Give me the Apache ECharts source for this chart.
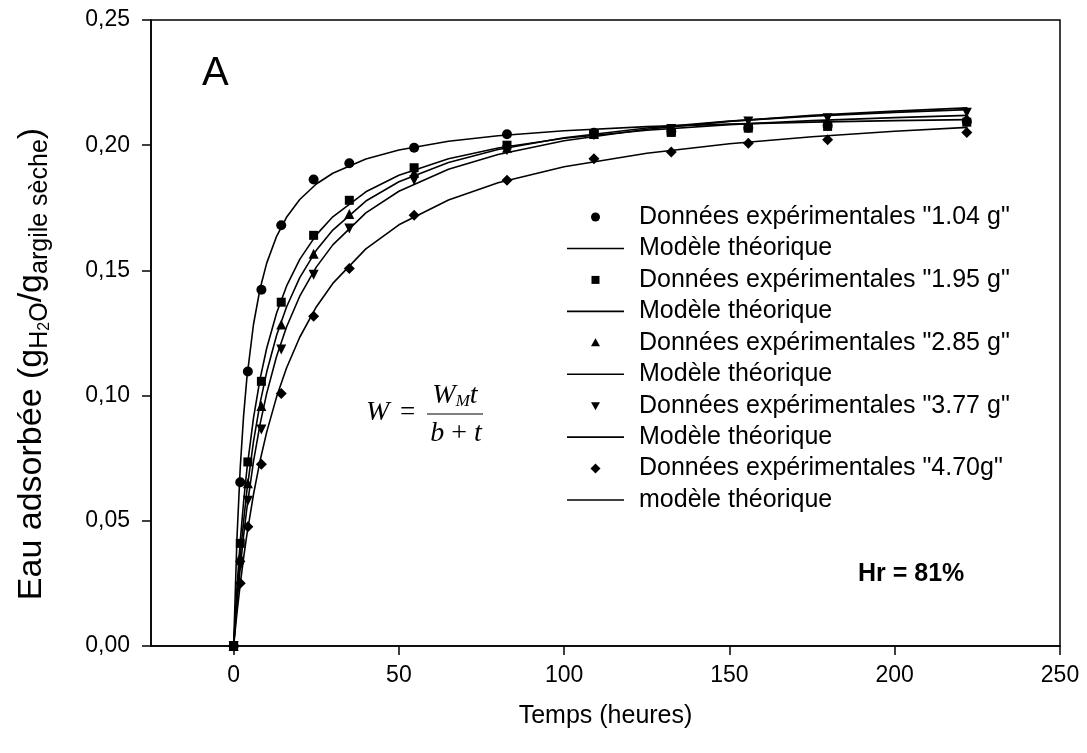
<!DOCTYPE html>
<html><head><meta charset="utf-8">
<script src="https://cdn.jsdelivr.net/npm/echarts@6/dist/echarts.min.js"></script>
<style>html,body{margin:0;padding:0;background:#fff}#c{width:1087px;height:753px}</style>
</head><body><div id="c"></div>
<script>
// ---- data ----
const times = [0, 2, 4.3, 8.4, 14.4, 24.2, 35, 54.6, 82.7, 109, 132.4, 155.7, 179.7, 221.8];
const data104 = [0, 0.0654, 0.1096, 0.1423, 0.168, 0.1863, 0.1928, 0.199, 0.2044, 0.205, 0.2055, 0.207, 0.208, 0.2095];
const data195 = [0, 0.041, 0.0735, 0.1057, 0.1373, 0.164, 0.178, 0.191, 0.200, 0.2045, 0.2051, 0.2068, 0.2075, 0.2092];
const data285 = [0, 0.0355, 0.065, 0.0958, 0.1284, 0.1566, 0.1725, 0.189, 0.199, 0.2045, 0.206, 0.208, 0.209, 0.211];
const data377 = [0, 0.032, 0.058, 0.0865, 0.1184, 0.1483, 0.1667, 0.186, 0.198, 0.204, 0.2065, 0.2095, 0.2108, 0.213];
const data470 = [0, 0.0251, 0.0476, 0.0726, 0.1008, 0.1317, 0.1508, 0.172, 0.186, 0.1946, 0.1973, 0.2008, 0.2022, 0.2051];

// model curves, values
const modelTimes = [0, 1, 2, 3, 4, 6, 8, 10, 13, 16, 20, 25, 30, 40, 50, 65, 80, 100, 125, 150, 175, 200, 222];
const model104 = [0, 0.0428, 0.0713, 0.0917, 0.107, 0.1284, 0.1427, 0.1529, 0.1636, 0.1712, 0.1783, 0.1845, 0.1888, 0.1945, 0.1981, 0.2016, 0.2038, 0.2058, 0.2074, 0.2084, 0.2092, 0.2098, 0.2102];
const model195 = [0, 0.0232, 0.0419, 0.0574, 0.0704, 0.0910, 0.1067, 0.1189, 0.1330, 0.1437, 0.1544, 0.1642, 0.1714, 0.1814, 0.1880, 0.1946, 0.1989, 0.2028, 0.2060, 0.2082, 0.2098, 0.2110, 0.2119];
const model285 = [0, 0.0195, 0.0359, 0.0498, 0.0619, 0.0816, 0.0970, 0.1094, 0.1241, 0.1354, 0.1471, 0.1580, 0.1661, 0.1777, 0.1854, 0.1931, 0.1983, 0.2030, 0.2069, 0.2096, 0.2116, 0.2131, 0.2142];
const model377 = [0, 0.0168, 0.0313, 0.0439, 0.0550, 0.0736, 0.0886, 0.1009, 0.1157, 0.1274, 0.1397, 0.1513, 0.1602, 0.1730, 0.1816, 0.1904, 0.1963, 0.2018, 0.2064, 0.2095, 0.2119, 0.2136, 0.2149];
const model470 = [0, 0.0131, 0.0247, 0.0351, 0.0444, 0.0605, 0.0740, 0.0854, 0.0995, 0.1110, 0.1233, 0.1354, 0.1448, 0.1586, 0.1682, 0.1781, 0.1850, 0.1914, 0.1968, 0.2006, 0.2034, 0.2056, 0.2071];

const dataNames = ['Données expérimentales "1.04 g"', 'Données expérimentales "1.95 g"', 'Données expérimentales "2.85 g"', 'Données expérimentales "3.77 g"', 'Données expérimentales "4.70g"'];
const modelNames = ['Modèle théorique', 'Modèle théorique', 'Modèle théorique', 'Modèle théorique', 'modèle théorique'];
const xTicks = [0, 50, 100, 150, 200, 250];

// ---- styling ----
const symbols = ['circle', 'rect', 'triangle', 'path://M0,0L10,0L5,10Z', 'diamond'];
const symbolSizes = [10, 9, 10, 10, 11];
const allData = [data104, data195, data285, data377, data470];
const allModels = [model104, model195, model285, model377, model470];

const series = [];
for (let i = 0; i < 5; i++) {
  series.push({
    type: 'line', name: modelNames[i] + ' ' + (i + 1),
    data: modelTimes.map((t, k) => [t, allModels[i][k]]),
    symbol: 'none', showSymbol: false, smooth: false,
    lineStyle: { color: '#000', width: 1.6 }, itemStyle: { color: '#000' },
    z: 2, silent: true
  });
  series.push({
    type: 'scatter', name: dataNames[i],
    data: times.map((t, k) => [t, allData[i][k]]),
    symbol: symbols[i], symbolSize: symbolSizes[i],
    itemStyle: { color: '#000', opacity: 1 }, z: 3, silent: true
  });
}

const FONT = 'Liberation Sans, Arial, sans-serif';
const SERIF = 'Liberation Serif, Times New Roman, serif';

// ---- hand-built legend (marker-only rows and line-only rows) ----
const legendLabels = [];
for (let i = 0; i < 5; i++) { legendLabels.push(dataNames[i]); legendLabels.push(modelNames[i]); }
const LEG_X = 567, LEG_Y0 = 217, LEG_DY = 31.45, LEG_W = 57, LEG_TX = 639;
const legendEls = [];
function legendMarker(kind, cx, cy) {
  const st = { fill: '#000' };
  if (kind === 0) return { type: 'circle', shape: { cx: cx, cy: cy, r: 4.5 }, style: st };
  if (kind === 1) return { type: 'rect', shape: { x: cx - 4, y: cy - 4, width: 8, height: 8 }, style: st };
  if (kind === 2) return { type: 'polygon', shape: { points: [[cx, cy - 4.5], [cx + 4.5, cy + 3.5], [cx - 4.5, cy + 3.5]] }, style: st };
  if (kind === 3) return { type: 'polygon', shape: { points: [[cx - 4.5, cy - 3.5], [cx + 4.5, cy - 3.5], [cx, cy + 4.5]] }, style: st };
  return { type: 'polygon', shape: { points: [[cx, cy - 5], [cx + 5, cy], [cx, cy + 5], [cx - 5, cy]] }, style: st };
}
legendLabels.forEach((lab, r) => {
  const y = LEG_Y0 + r * LEG_DY;
  if (r % 2 === 0) legendEls.push(legendMarker(r / 2, LEG_X + LEG_W / 2, y));
  else legendEls.push({ type: 'line', shape: { x1: LEG_X, y1: y, x2: LEG_X + LEG_W, y2: y }, style: { stroke: '#000', lineWidth: 1.6 } });
  legendEls.push({ type: 'text', x: LEG_TX, y: y, style: { text: lab, font: '25px ' + FONT, fill: '#000', verticalAlign: 'middle' } });
});

const chart = echarts.init(document.getElementById('c'), null, { renderer: 'canvas' });
chart.setOption({
  animation: false,
  backgroundColor: '#fff',
  grid: { left: 151, right: 27, top: 20, bottom: 107, show: true, borderColor: '#000', borderWidth: 1.5, backgroundColor: 'transparent' },
  xAxis: {
    type: 'value', min: -25, max: 250,
    name: 'Temps (heures)', nameLocation: 'middle', nameGap: 58,
    nameTextStyle: { fontFamily: FONT, fontSize: 25, color: '#000' },
    axisLine: { show: true, onZero: false, lineStyle: { color: '#000', width: 1.5 } },
    axisTick: { show: true, inside: false, length: 9, customValues: xTicks, lineStyle: { color: '#000', width: 1.5 } },
    axisLabel: { fontFamily: FONT, fontSize: 23, color: '#000', margin: 18, customValues: xTicks },
    splitLine: { show: false }
  },
  yAxis: {
    type: 'value', min: 0, max: 0.25, interval: 0.05,
    axisLine: { show: true, onZero: false, lineStyle: { color: '#000', width: 1.5 } },
    axisTick: { show: true, inside: false, length: 9, lineStyle: { color: '#000', width: 1.5 } },
    axisLabel: { fontFamily: FONT, fontSize: 23, color: '#000', margin: 21,
      formatter: v => v.toFixed(2).replace('.', ',') },
    splitLine: { show: false }
  },
  graphic: [
    { type: 'text', x: 32, y: 364, rotation: Math.PI / 2, style: {
        text: 'Eau adsorbée (g{s|H}{ss|2}{s|O}/g{s|argile sèche})',
        font: '34px ' + FONT, fill: '#000', align: 'center', verticalAlign: 'middle', lineHeight: 42,
        rich: {
          s: { font: '25px ' + FONT, lineHeight: 25, verticalAlign: 'bottom', fill: '#000' },
          ss: { font: '16px ' + FONT, lineHeight: 14, verticalAlign: 'bottom', fill: '#000' }
        } } },
    { type: 'text', left: 202, top: 54, style: { text: 'A', font: '40px ' + FONT, fill: '#000' } },
    { type: 'text', left: 858, top: 562, style: { text: 'Hr = 81%', font: 'bold 25px ' + FONT, fill: '#000' } },
    { type: 'text', x: 366, y: 413, style: { text: 'W', font: 'italic 28px ' + SERIF, fill: '#000', verticalAlign: 'middle' } },
    { type: 'text', x: 400, y: 413, style: { text: '=', font: '27px ' + SERIF, fill: '#000', verticalAlign: 'middle' } },
    { type: 'text', x: 455, y: 396, style: {
        text: '{i|W}{s|M}{i|t}', align: 'center', verticalAlign: 'middle', fill: '#000',
        rich: { i: { font: 'italic 28px ' + SERIF, lineHeight: 28, fill: '#000' },
                s: { font: 'italic 17px ' + SERIF, lineHeight: 16, verticalAlign: 'bottom', fill: '#000' } } } },
    { type: 'line', shape: { x1: 427, y1: 414, x2: 483, y2: 414 }, style: { stroke: '#000', lineWidth: 1 } },
    { type: 'text', x: 456, y: 434, style: {
        text: '{i|b} + {i|t}', align: 'center', verticalAlign: 'middle', fill: '#000', font: '28px ' + SERIF,
        rich: { i: { font: 'italic 28px ' + SERIF, fill: '#000' } } } }
  ].concat(legendEls),
  series: series
});
</script>
</body></html>
